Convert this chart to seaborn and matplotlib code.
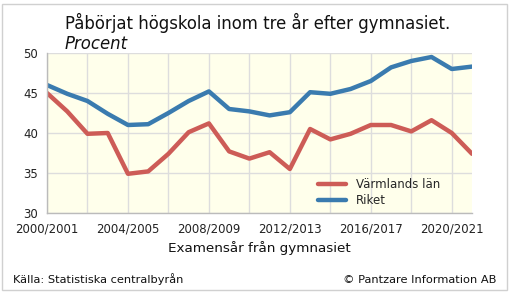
import numpy as np
import pandas as pd
import seaborn as sns
from matplotlib import pyplot as plt
from matplotlib.patches import Rectangle

# school years, 2000/2001 .. 2021/2022
years = [f'{y}/{y + 1}' for y in range(2000, 2022)]

varmland = [45.0, 42.7, 39.9, 40.0, 34.9, 35.2, 37.4, 40.1, 41.2, 37.7, 36.8,
            37.6, 35.5, 40.5, 39.2, 39.9, 41.0, 41.0, 40.2, 41.6, 40.0, 37.4]
riket = [46.0, 44.9, 44.0, 42.4, 41.0, 41.1, 42.5, 44.0, 45.2, 43.0, 42.7,
         42.2, 42.6, 45.1, 44.9, 45.5, 46.5, 48.2, 49.0, 49.5, 48.0, 48.3]

tick_labels = ['2000/2001', '2004/2005', '2008/2009', '2012/2013', '2016/2017', '2020/2021']

df = pd.DataFrame({
    'x': list(range(len(years))) * 2,
    'Procent': varmland + riket,
    'Serie': ['Värmlands län'] * len(years) + ['Riket'] * len(years),
})

sns.set_style('white')
plt.rcParams['font.family'] = ['DejaVu Sans']

fig = plt.figure(figsize=(5.15, 2.92), dpi=100)
ax = fig.add_axes([47 / 515, 1 - 213 / 292, 425 / 515, 160 / 292])
ax.set_facecolor('#FFFFEB')

sns.lineplot(data=df, x='x', y='Procent', hue='Serie',
             palette={'Värmlands län': '#CD5C57', 'Riket': '#3A7BAF'},
             linewidth=3.2, ax=ax)

ax.set_xlim(0, len(years) - 1)
ax.set_ylim(30, 50)
ax.set_yticks([30, 35, 40, 45, 50])
ax.set_xticks(range(0, len(years), 4))
ax.set_xticklabels(tick_labels)
ax.set_xticks(range(0, len(years), 2), minor=True)
ax.grid(True, which='both', axis='x', color='#DDDDDD', linewidth=1)
ax.grid(True, which='major', axis='y', color='#DDDDDD', linewidth=1)
ax.set_axisbelow(True)
ax.tick_params(axis='both', labelsize=8.5, colors='#222222', length=3, width=0.8)
ax.tick_params(axis='x', which='minor', length=0)
ax.tick_params(axis='x', which='major', length=3, color='#BBBBBB')
ax.tick_params(axis='y', length=3, color='#BBBBBB')
for s in ['top', 'right']:
    ax.spines[s].set_visible(False)
for s in ['left', 'bottom']:
    ax.spines[s].set_color('#BBBBBB')
    ax.spines[s].set_linewidth(1)

ax.set_ylabel('')
ax.set_xlabel('Examensår från gymnasiet', fontsize=9.7, color='#111111', labelpad=4)

leg = ax.legend(loc='lower right', frameon=False, fontsize=8.5, handlelength=2.4,
                bbox_to_anchor=(0.95, -0.03), labelspacing=0.3)
for line in leg.get_lines():
    line.set_linewidth(3.2)

fig.text(65 / 515, 1 - 29 / 292, 'Påbörjat högskola inom tre år efter gymnasiet.',
         fontsize=11.9, color='#111111')
fig.text(65 / 515, 1 - 49 / 292, 'Procent', fontsize=11.9, style='italic', color='#111111')
fig.text(13 / 515, 1 - 283 / 292, 'Källa: Statistiska centralbyrån', fontsize=8.2, color='#111111')
fig.text(496 / 515, 1 - 283 / 292, '© Pantzare Information AB', fontsize=8.2,
         color='#111111', ha='right')

fig.patches.append(Rectangle((2 / 515, 2 / 292), 505 / 515, 286 / 292,
                             transform=fig.transFigure, fill=False,
                             edgecolor='#D0D0D0', linewidth=1))

fig.savefig('out.png', dpi=100)
